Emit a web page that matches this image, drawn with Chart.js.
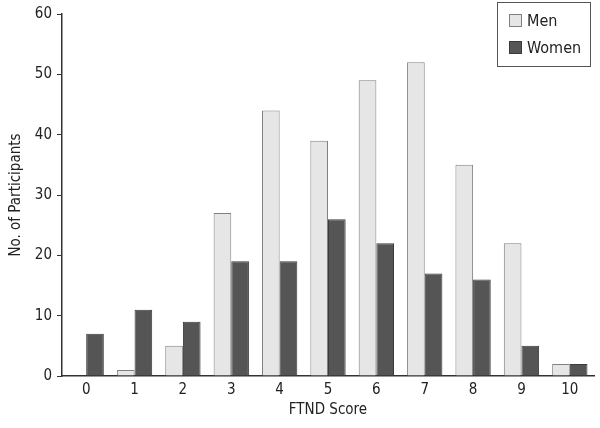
<!DOCTYPE html>
<html><head><meta charset="utf-8">
<script src="https://cdn.jsdelivr.net/npm/chart.js@4/dist/chart.umd.min.js"></script>
<style>html,body{margin:0;padding:0;background:#fff}#wrap{width:600px;height:428px}</style>
</head><body><div id="wrap"><canvas id="c" width="600" height="428"></canvas></div>
<script>
const categories = ['0','1','2','3','4','5','6','7','8','9','10'];
const men = [0,1,5,27,44,39,49,52,35,22,2];
const women = [7,11,9,19,19,26,22,17,16,5,2];
const yTicks = [0,10,20,30,40,50,60];
const FONT = "'Liberation Sans Narrow','DejaVu Sans Condensed','Liberation Sans',sans-serif";

const legendBox = {
  id:'legendBox',
  afterDraw(chart){
    const ctx = chart.ctx;
    ctx.save();
    ctx.strokeStyle = '#555'; ctx.lineWidth = 1;
    ctx.strokeRect(497.5, 2.5, 93, 64);
    ctx.font = '16px ' + FONT;
    ctx.textBaseline = 'middle';
    chart.data.datasets.forEach((ds,i)=>{
      const y = 21 + i*27;
      ctx.fillStyle = ds.backgroundColor; ctx.strokeStyle = ds.borderColor;
      ctx.fillRect(509.5, y-6.5, 12, 12); ctx.strokeRect(509.5, y-6.5, 12, 12);
      ctx.fillStyle = '#222';
      ctx.fillText(ds.label, 527, y+1);
    });
    ctx.restore();
  }
};

new Chart(document.getElementById('c'), {
  type:'bar',
  data:{labels:categories, datasets:[
    {label:'Men', data:men, backgroundColor:'#e6e6e6', borderColor:'#808080', borderWidth:1},
    {label:'Women', data:women, backgroundColor:'#555555', borderColor:'#3a3a3a', borderWidth:1}
  ]},
  options:{
    responsive:false, animation:false,
    layout:{padding:{left:7,top:13,right:6,bottom:9}},
    datasets:{bar:{categoryPercentage:0.73, barPercentage:1}},
    plugins:{legend:{display:false}, tooltip:{enabled:false}},
    scales:{
      x:{
        grid:{display:false, drawTicks:false},
        border:{display:true, color:'#333', width:1.5},
        ticks:{color:'#222', font:{family:FONT, size:15}, padding:5},
        title:{display:true, text:'FTND Score', color:'#222', font:{family:FONT, size:15}, padding:{top:0,bottom:0}},
        afterFit(s){ s.height = 43; }
      },
      y:{
        min:0, max:60,
        afterBuildTicks(s){ s.ticks = yTicks.map(v=>({value:v})); },
        grid:{display:true, drawOnChartArea:false, drawTicks:true, tickLength:5, color:'#333', lineWidth:1},
        border:{display:true, color:'#333', width:1.5},
        ticks:{color:'#222', font:{family:FONT, size:15}, padding:5},
        title:{display:true, text:'No. of Participants', color:'#222', font:{family:FONT, size:15}, padding:{top:0,bottom:4}},
        afterFit(s){ s.width = 55; }
      }
    }
  },
  plugins:[legendBox]
});
</script></body></html>
